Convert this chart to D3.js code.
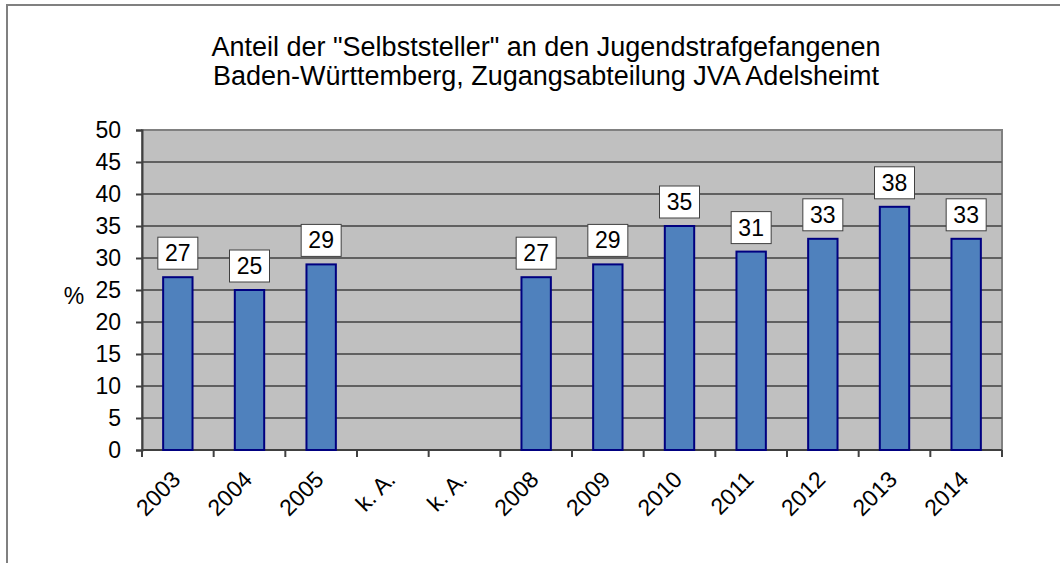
<!DOCTYPE html>
<html>
<head>
<meta charset="utf-8">
<script src="https://cdn.jsdelivr.net/npm/d3@7"></script>
<style>
body { margin: 0; background: #fff; }
text { font-family: "Liberation Sans", Arial, sans-serif; fill: #000; }
</style>
</head>
<body>
<div id="chart"></div>
<script>
const WIDTH = 1060;
const HEIGHT = 563;

// data
const categories = ["2003", "2004", "2005", "k. A.", "k. A.", "2008", "2009", "2010", "2011", "2012", "2013", "2014"];
const values = [27, 25, 29, null, null, 27, 29, 35, 31, 33, 38, 33];
const yTicks = [0, 5, 10, 15, 20, 25, 30, 35, 40, 45, 50];
const titleLines = ["Anteil der \"Selbststeller\" an den Jugendstrafgefangenen", "Baden-Württemberg, Zugangsabteilung JVA Adelsheimt"];

const margin = { left: 142, right: 58, top: 130, bottom: 113 };
const plotW = WIDTH - margin.left - margin.right;
const plotH = HEIGHT - margin.top - margin.bottom;
const FS = "23px";

const svg = d3.select("#chart").append("svg")
  .attr("width", WIDTH)
  .attr("height", HEIGHT);

// outer chart frame
svg.append("rect")
  .attr("x", 7).attr("y", 5)
  .attr("width", WIDTH + 10).attr("height", HEIGHT + 10)
  .attr("fill", "#fff")
  .attr("stroke", "#808080")
  .attr("stroke-width", 2);

const idx = categories.map((d, i) => i);
const x = d3.scaleBand().domain(idx).range([0, plotW]).paddingInner(0.59).paddingOuter(0.295);
const xb = d3.scaleBand().domain(idx).range([0, plotW]);
const y = d3.scaleLinear().domain([0, 50]).range([plotH, 0]);

const g = svg.append("g").attr("transform", "translate(" + margin.left + "," + margin.top + ")");

g.append("rect")
  .attr("width", plotW).attr("height", plotH)
  .attr("fill", "#c0c0c0")
  .attr("stroke", "#808080")
  .attr("stroke-width", 2);

// gridlines
g.selectAll(".grid").data(yTicks.slice(1, -1)).enter().append("line")
  .attr("x1", 0).attr("x2", plotW)
  .attr("y1", d => y(d)).attr("y2", d => y(d))
  .attr("stroke", "#606060").attr("stroke-width", 2);

// y axis
const yAxis = g.append("g")
  .call(d3.axisLeft(y).tickValues(yTicks).tickSize(6).tickPadding(15));
yAxis.select(".domain").attr("stroke", "#404040").attr("stroke-width", 2);
yAxis.selectAll(".tick line").attr("stroke", "#404040").attr("stroke-width", 2);
yAxis.selectAll("text").style("font-size", FS).attr("fill", "#000");

// x axis with ticks at the category boundaries
const xAxis = g.append("g").attr("transform", "translate(0," + plotH + ")");
xAxis.append("line").attr("x1", 0).attr("x2", plotW).attr("stroke", "#404040").attr("stroke-width", 2);
xAxis.selectAll(".xt").data(idx.concat([idx.length])).enter().append("line")
  .attr("x1", d => d * xb.bandwidth()).attr("x2", d => d * xb.bandwidth())
  .attr("y1", 0).attr("y2", 7)
  .attr("stroke", "#404040").attr("stroke-width", 2);
xAxis.selectAll(".xl").data(idx).enter().append("text")
  .attr("transform", d => "translate(" + (xb(d) + xb.bandwidth() / 2 + 4) + ",31) rotate(-45)")
  .attr("text-anchor", "end")
  .style("font-size", FS)
  .text(d => categories[d]);

// bars
const data = idx.filter(i => values[i] != null);
g.selectAll(".bar").data(data).enter().append("rect")
  .attr("x", d => x(d))
  .attr("y", d => y(values[d]))
  .attr("width", x.bandwidth())
  .attr("height", d => plotH - y(values[d]))
  .attr("fill", "#4f81bd")
  .attr("stroke", "#000080")
  .attr("stroke-width", 2);

// value labels
const lbl = g.selectAll(".lbl").data(data).enter().append("g")
  .attr("transform", d => "translate(" + (x(d) + x.bandwidth() / 2) + "," + (y(values[d]) - 8) + ")");
lbl.append("rect")
  .attr("x", -20).attr("y", -32)
  .attr("width", 40).attr("height", 32)
  .attr("fill", "#fff")
  .attr("stroke", "#404040").attr("stroke-width", 1);
lbl.append("text")
  .attr("y", -8)
  .attr("text-anchor", "middle")
  .style("font-size", FS)
  .text(d => values[d]);

// axis title
svg.append("text")
  .attr("x", 74).attr("y", 304)
  .attr("text-anchor", "middle")
  .style("font-size", FS)
  .text("%");

// chart title
svg.selectAll(".title").data(titleLines).enter().append("text")
  .attr("x", 546).attr("y", (d, i) => 56 + i * 29)
  .attr("text-anchor", "middle")
  .style("font-size", "27px")
  .text(d => d);
</script>
</body>
</html>
